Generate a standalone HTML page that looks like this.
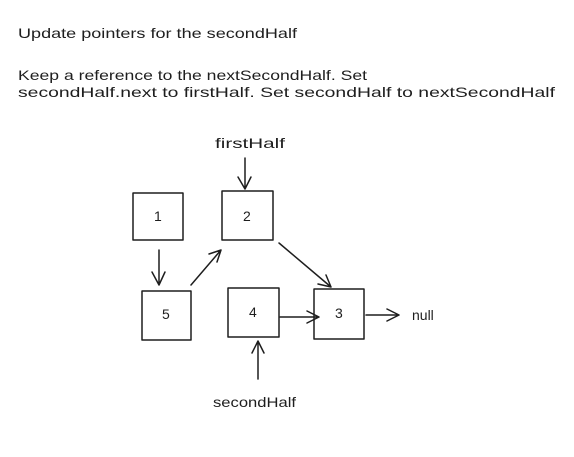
<!DOCTYPE html>
<html><head><meta charset="utf-8"><style>
html,body{margin:0;padding:0;background:#fff;}
svg{display:block}
text{font-family:"Liberation Sans",sans-serif;fill:#1e1e1e;font-size:14px}
</style></head><body>
<svg width="574" height="457" viewBox="0 0 574 457" xmlns="http://www.w3.org/2000/svg">
<rect width="574" height="457" fill="#fff"/>
<text x="18" y="38" textLength="279" lengthAdjust="spacingAndGlyphs">Update pointers for the secondHalf</text>
<text x="18" y="80" textLength="349" lengthAdjust="spacingAndGlyphs">Keep a reference to the nextSecondHalf. Set</text>
<text x="18" y="97" textLength="537" lengthAdjust="spacingAndGlyphs">secondHalf.next to firstHalf. Set secondHalf to nextSecondHalf</text>
<g fill="none" stroke="#1e1e1e" stroke-width="1.5" stroke-linecap="round" stroke-linejoin="round">
<rect x="133" y="193" width="50" height="47"/>
<rect x="222" y="191" width="51" height="49"/>
<rect x="142" y="291" width="49" height="49"/>
<rect x="228" y="288" width="51" height="49"/>
<rect x="314" y="289" width="50" height="50"/>
<path d="M245 158 L245 189 M238 177 L245 189 L251 177"/>
<path d="M159 250 L159 285 M152 272 L159 285 L165 272"/>
<path d="M191 285 L221 250 M209 254 L221 250 L217 262"/>
<path d="M279 243 L331 287 M318 284 L331 287 L326 275"/>
<path d="M280 317 L319 317 M307 311 L319 317 L307 323"/>
<path d="M366 315 L399 315 M387 309 L399 315 L387 321"/>
<path d="M258 379 L258 341 M252 353 L258 341 L264 353"/>
</g>
<text x="154" y="221" font-size="13">1</text>
<text x="243" y="221" font-size="13">2</text>
<text x="162" y="319" font-size="13">5</text>
<text x="249" y="317" font-size="13">4</text>
<text x="335" y="318" font-size="13">3</text>
<text x="412" y="320" font-size="13">null</text>
<text x="215" y="148" font-size="13" textLength="70" lengthAdjust="spacingAndGlyphs">firstHalf</text>
<text x="213" y="407" font-size="13" textLength="83" lengthAdjust="spacingAndGlyphs">secondHalf</text>
</svg>
</body></html>
